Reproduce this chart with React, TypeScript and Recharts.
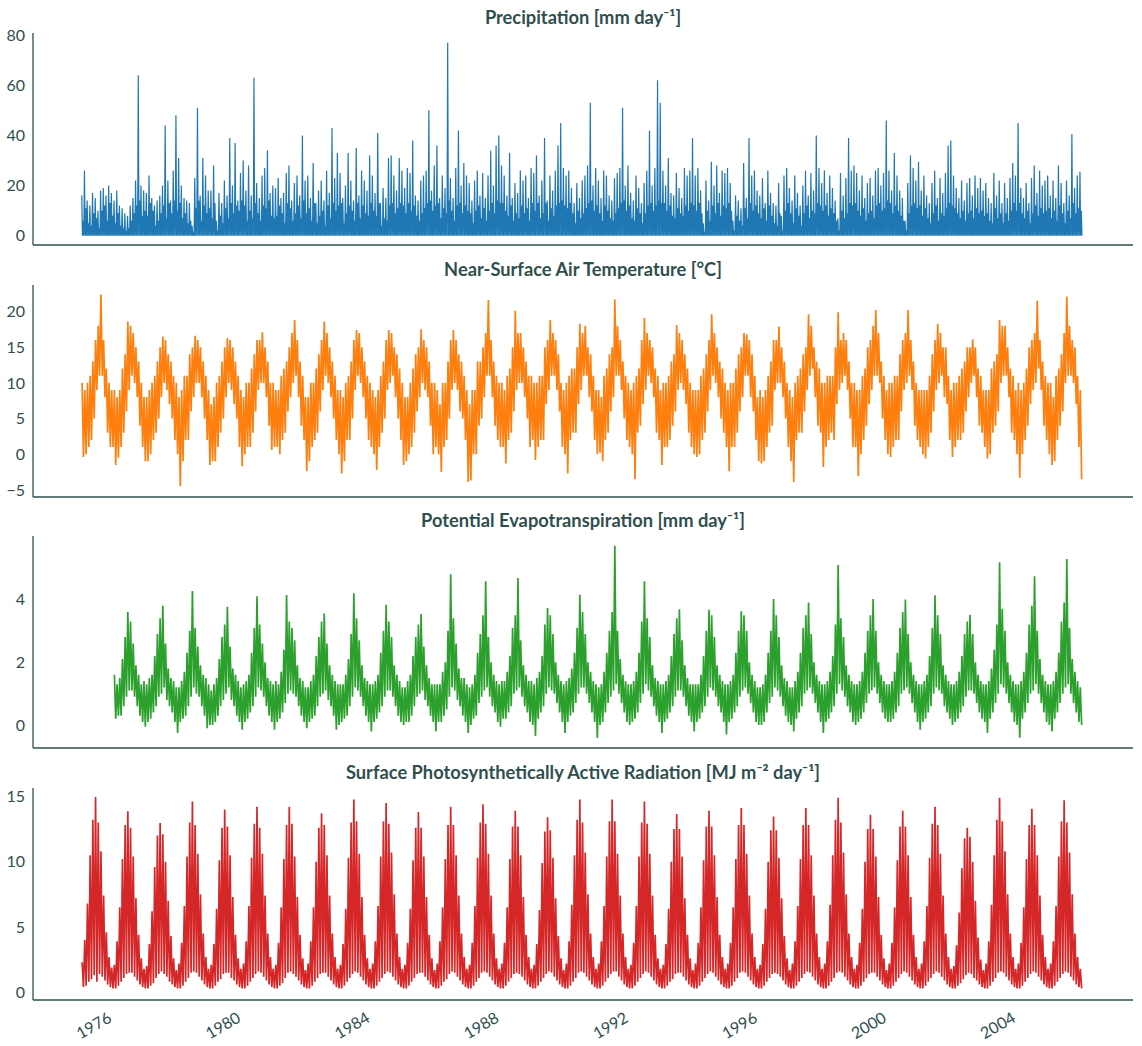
import React from 'react';
import { LineChart, Line, XAxis, YAxis } from 'recharts';

// Monthly envelopes of the daily series, January 1975 - December 2005.
// Each row is one year, January to December.

const FIRST_YEAR = 1975;
const PET_FIRST_YEAR = 1976;
const yearTicks = [1976, 1980, 1984, 1988, 1992, 1996, 2000, 2004];

// Precipitation: wettest day of the month and a typical wet day [mm/day]
const prPeak = [
  16, 26, 14, 12, 17, 15, 10, 18, 19, 16, 20, 17,
  14, 18, 12, 11, 9, 8, 12, 15, 22, 64, 20, 18,
  17, 24, 15, 12, 14, 16, 20, 44, 22, 14, 26, 48,
  31, 20, 15, 14, 13, 4, 23, 51, 16, 31, 24, 18,
  18, 28, 6, 17, 13, 22, 16, 39, 20, 37, 14, 25,
  30, 18, 28, 16, 63, 21, 15, 24, 27, 34, 17, 20,
  19, 23, 15, 17, 25, 28, 14, 21, 24, 16, 40, 22,
  24, 15, 29, 13, 18, 22, 14, 26, 17, 43, 23, 33,
  25, 15, 20, 33, 22, 14, 35, 16, 26, 22, 18, 32,
  24, 17, 41, 13, 19, 15, 31, 32, 24, 18, 31, 26,
  19, 27, 25, 38, 16, 14, 22, 24, 26, 50, 18, 28,
  36, 15, 24, 19, 77, 23, 15, 27, 42, 20, 29, 24,
  21, 14, 22, 26, 16, 25, 15, 24, 34, 20, 36, 40,
  28, 24, 16, 33, 15, 21, 17, 26, 22, 24, 15, 27,
  25, 32, 16, 22, 39, 14, 24, 18, 26, 36, 45, 27,
  24, 26, 19, 13, 21, 15, 22, 24, 28, 53, 20, 27,
  22, 15, 26, 24, 16, 14, 23, 25, 27, 51, 20, 28,
  17, 14, 24, 19, 13, 21, 26, 42, 20, 27, 62, 53,
  26, 20, 31, 17, 16, 25, 19, 15, 27, 24, 26, 39,
  24, 27, 18, 5, 22, 14, 29.5, 20, 28, 17, 26, 25,
  27, 21, 6, 16, 14, 11, 29, 15, 39, 24, 26, 18,
  16, 23, 13, 26, 17, 13, 12, 21, 8, 24, 27, 19,
  14, 24, 17, 12, 20, 26, 16, 25, 18, 40, 27, 21,
  26, 17, 24, 19, 14, 7, 25, 16, 23, 39, 26, 28,
  25, 18, 24, 15, 21, 23, 16, 26, 27, 20, 25, 46,
  26, 18, 33, 24, 18, 15, 6, 21, 32, 27, 22, 29.5,
  18, 24, 16, 13, 21, 26, 15, 23, 17, 25, 36, 38,
  24, 19, 15, 22, 14, 21, 23, 16, 24, 19, 23, 18,
  21, 15, 13, 25, 16, 22, 13, 21, 15, 23, 29, 24,
  45, 19, 15, 21, 13, 23, 28, 17, 26, 20, 22, 24,
  16, 22, 15, 28, 21, 13, 22, 16, 40.6, 19, 24, 25.5,
];
const prMid = [
  6, 11, 5, 4, 9, 7, 3, 10, 12, 6, 13, 8,
  5, 9, 4, 3, 2, 3, 6, 9, 12, 14, 8, 10,
  8, 13, 10, 4, 6, 9, 12, 7, 13, 9, 14, 10,
  13, 7, 9, 5, 6, 1, 11, 14, 6, 12, 9, 11,
  7, 13, 2, 8, 5, 11, 7, 13, 9, 12, 10, 14,
  12, 6, 10, 7, 13, 9, 6, 12, 11, 14, 8, 7,
  8, 12, 9, 5, 13, 11, 6, 9, 12, 7, 14, 9,
  11, 6, 13, 5, 8, 10, 4, 12, 7, 13, 10, 12,
  13, 5, 9, 12, 10, 6, 13, 7, 12, 9, 8, 13,
  10, 8, 13, 4, 7, 6, 12, 13, 9, 11, 13, 12,
  9, 13, 10, 12, 8, 6, 9, 11, 13, 14, 10, 12,
  13, 7, 11, 9, 14, 10, 6, 12, 13, 9, 12, 10,
  9, 5, 10, 12, 7, 11, 6, 10, 13, 9, 14, 13,
  13, 10, 8, 12, 6, 9, 7, 12, 9, 11, 6, 13,
  10, 13, 7, 9, 13, 6, 11, 8, 12, 13, 14, 12,
  11, 13, 9, 5, 10, 7, 9, 11, 13, 14, 10, 12,
  9, 6, 12, 10, 7, 6, 9, 11, 13, 14, 10, 12,
  7, 6, 11, 9, 5, 9, 12, 13, 10, 12, 14, 13,
  13, 10, 12, 8, 7, 11, 9, 8, 12, 10, 13, 12,
  10, 13, 9, 1.5, 10, 6, 12, 9, 13, 8, 12, 11,
  13, 10, 2, 8, 6, 4, 11, 7, 13, 10, 12, 9,
  7, 11, 6, 12, 8, 5, 4, 9, 2, 10, 13, 9,
  5, 11, 8, 4, 9, 12, 7, 10, 9, 13, 12, 10,
  12, 8, 11, 9, 6, 2, 10, 7, 9, 13, 12, 13,
  10, 8, 11, 6, 9, 10, 7, 12, 13, 10, 11, 14,
  13, 9, 12, 10, 8, 6, 2, 9, 12, 13, 11, 12,
  8, 11, 7, 5, 9, 12, 6, 9, 8, 11, 13, 12,
  11, 9, 7, 10, 6, 9, 10, 7, 11, 9, 10, 8,
  9, 6, 5, 11, 7, 9, 5, 9, 6, 10, 13, 10,
  13, 9, 7, 10, 5, 9, 12, 8, 11, 9, 10, 11,
  7, 10, 6, 12, 9, 5, 10, 7, 13, 9, 11, 10,
];
const DRY_DAY = 0;

// Near-surface air temperature: warmest and coldest day of the month [°C]
const tasHigh = [
  10, 9, 10, 11, 13, 16, 18, 22.4, 16, 12, 10, 9,
  9, 8, 9, 12, 14, 18.6, 18, 17, 15, 13, 10, 8,
  8, 9, 10, 11, 13, 15, 16.5, 16, 14, 13, 11, 10,
  8, 9, 11, 11, 14, 15, 16.6, 16, 15, 13, 11, 9,
  7, 8, 10, 11, 13, 15, 16.3, 16, 15, 13, 11, 9,
  8, 10, 10, 12, 14, 16, 16, 17.1, 15, 13, 10, 10,
  9, 9, 11, 12, 13, 15, 17, 18.8, 16, 13, 11, 8,
  8, 10, 10, 12, 14, 16, 18.6, 17, 15, 13, 11, 9,
  9, 8, 10, 11, 13, 16, 17.4, 17, 15, 13, 11, 10,
  9, 8, 9, 11, 13, 16, 17.4, 17, 15, 14, 12, 10,
  8, 8, 10, 12, 14, 15, 17.5, 16, 15, 13, 10, 10,
  9, 7, 10, 10, 13, 16, 17.4, 16, 14, 13, 11, 9,
  7, 9, 9, 13, 13, 15, 17, 21.6, 16, 13, 11, 10,
  10, 9, 11, 12, 15, 20.1, 17, 17, 15, 13, 11, 11,
  10, 10, 11, 11, 15, 16, 18.8, 17, 16, 14, 10, 9,
  10, 11, 12, 12, 15, 18.3, 17, 18, 15, 14, 11, 9,
  9, 8, 11, 12, 14, 15, 21.7, 18, 16, 13, 11, 10,
  9, 10, 11, 12, 16, 19.1, 17, 16, 15, 12, 11, 9,
  10, 10, 11, 13, 14, 18.1, 17, 16, 14, 12, 10, 9,
  9, 9, 11, 12, 14, 16, 19.6, 17, 15, 13, 12, 10,
  9, 10, 10, 12, 14, 15, 17, 16.8, 16, 14, 11, 8,
  9, 8, 9, 11, 13, 16, 16, 17.9, 15, 13, 10, 9,
  8, 10, 11, 12, 14, 15, 19.6, 18, 15, 13, 12, 10,
  10, 11, 11, 11, 15, 19.9, 16, 17, 16, 13, 10, 10,
  9, 9, 11, 12, 15, 16, 18, 20.2, 17, 13, 11, 9,
  10, 10, 11, 11, 14, 16, 17, 20.2, 16, 13, 10, 9,
  9, 9, 9, 11, 14, 16, 18.3, 17, 15, 15, 11, 9,
  10, 10, 11, 12, 13, 15, 15, 16.1, 15, 12, 11, 9,
  9, 9, 12, 13, 14, 18.8, 18, 18, 15, 12, 11, 9,
  10, 9, 10, 12, 15, 16, 17, 21.5, 16, 13, 11, 10,
  10, 8, 11, 12, 14, 17, 22.1, 18, 16, 15, 11, 9,
];
const tasLow = [
  -0.4, 0, 1, 2, 5, 9, 11, 11, 8, 3, 1, 1,
  -1.5, -0.5, 1, 3, 6, 9, 11, 10, 8, 4, 1, -1,
  -1, 0, 2, 3, 5, 8, 10, 9, 7, 5, 2, 0,
  -4.5, -1, 2, 2, 6, 8, 10, 10, 8, 5, 2, -1.5,
  -1, -1, 1, 3, 5, 8, 10, 9, 7, 5, 1, -1.7,
  0, 1, 1, 3, 6, 9, 10, 10, 8, 4, 0.6, 1,
  1, 0, 2, 3, 6, 8, 10, 11, 8, 4, 2, -2.4,
  -1, 1, 2, 3, 6, 9, 11, 10, 8, 5, 2, 0,
  -2.7, -1, 2, 2, 5, 9, 11, 10, 8, 5, 2, 1,
  0, -2.2, 1, 3, 5, 9, 10, 11, 8, 5, 2, -1.5,
  -1, 0, 1, 3, 6, 8, 10, 9, 8, 4, 0, 1,
  0, -2.5, 1, 2, 5, 9, 10, 9, 6, 5, 2, -3.9,
  -3.7, 0, 0, 4, 5, 8, 11, 11, 8, 4, 2, 1,
  1, -1.3, 2, 3, 6, 9, 10, 10, 8, 5, 1, 2,
  -0.8, 1, 2, 2, 7, 9, 11, 11, 9, 6, 1, 0,
  -2.7, 2, 3, 3, 7, 9, 11, 11, 8, 6, 2, 0,
  0.2, -1, 2, 3, 6, 8, 11, 11, 9, 5, 2, 1,
  0, -3.5, 3, 4, 7, 9, 11, 10, 8, 3, 2, -1.5,
  1, 1, 2, 4, 6, 9, 10, 9, 7, 3, 1, 0,
  -0.4, 0, 2, 3, 6, 9, 11, 10, 8, 5, 3, 1,
  -2.4, 1, 1, 3, 6, 8, 11, 11, 8, 6, 2, -1,
  -1.3, -1, 1, 3, 4, 9, 10, 10, 8, 5, 1, -1,
  -3.9, 2, 3, 3, 6, 9, 11, 12, 8, 4, 3, -1.8,
  1, 2, 3, 2, 7, 9, 10, 11, 9, 5, 1, 1,
  -3.1, 0, 2, 4, 7, 9, 11, 11, 10, 5, 2, 0,
  -0.4, 1, 2, 2, 6, 9, 10, 11, 9, 4, 2, 1,
  0, -0.6, 1, 3, 6, 9, 10, 11, 8, 7, 2, -0.4,
  1, 2, 2, 3, 6, 8, 10, 11, 8, 4, 3, 1,
  -0.6, 0, 3, 4, 6, 10, 11, 11, 8, 3, 2, 0,
  -3.3, 0, 2, 4, 7, 9, 10, 12, 9, 4, 2, 0,
  -1.5, -1, 2, 4, 6, 10, 11, 11, 10, 7, 1, -3.5,
];

// Potential evapotranspiration, 1976 onwards [mm/day]
const petHigh = [
  1.6, 1.3, 1.5, 2.1, 2.8, 3.6, 3.3, 2.6, 1.9, 1.6, 1.3, 1.4,
  1.3, 1.5, 1.6, 2.2, 2.9, 3.4, 3.8, 2.6, 1.8, 1.5, 1.4, 1.2,
  1.2, 1.4, 1.7, 2.3, 3.0, 4.27, 3.1, 2.5, 1.9, 1.6, 1.5, 1.3,
  1.1, 1.3, 1.5, 2.1, 2.8, 3.2, 3.77, 2.5, 1.8, 1.6, 1.4, 1.2,
  1.3, 1.4, 1.6, 2.3, 3.1, 4.1, 3.2, 2.6, 2.0, 1.5, 1.4, 1.3,
  1.4, 1.3, 1.7, 2.4, 4.14, 3.3, 3.1, 2.7, 1.9, 1.5, 1.4, 1.2,
  1.2, 1.4, 1.6, 2.2, 2.8, 3.3, 3.55, 2.6, 1.9, 1.6, 1.4, 1.3,
  1.3, 1.3, 1.6, 2.1, 2.9, 4.2, 3.4, 2.7, 1.9, 1.5, 1.4, 1.3,
  1.3, 1.4, 1.6, 2.3, 3.0, 3.83, 3.3, 2.8, 1.9, 1.6, 1.4, 1.2,
  1.2, 1.4, 1.6, 2.2, 2.8, 3.2, 3.54, 2.5, 1.9, 1.5, 1.3, 1.3,
  1.3, 1.3, 1.7, 2.0, 3.0, 4.8, 3.4, 2.6, 1.8, 1.5, 1.5, 1.3,
  1.2, 1.3, 1.6, 2.3, 2.9, 3.5, 4.58, 2.8, 2.0, 1.6, 1.4, 1.3,
  1.4, 1.4, 1.7, 2.2, 3.1, 3.5, 4.68, 2.7, 1.9, 1.6, 1.4, 1.4,
  1.3, 1.5, 1.7, 2.2, 3.2, 3.73, 3.5, 2.9, 2.0, 1.6, 1.4, 1.3,
  1.4, 1.5, 1.8, 2.3, 3.1, 4.15, 3.6, 2.9, 2.0, 1.7, 1.4, 1.3,
  1.2, 1.3, 1.7, 2.3, 3.0, 3.6, 5.71, 3.0, 2.1, 1.6, 1.4, 1.3,
  1.3, 1.4, 1.7, 2.3, 3.3, 4.58, 3.4, 2.8, 1.9, 1.5, 1.4, 1.3,
  1.3, 1.4, 1.6, 2.2, 2.9, 3.4, 3.69, 2.7, 1.9, 1.5, 1.3, 1.3,
  1.3, 1.3, 1.6, 2.2, 3.0, 3.67, 3.5, 2.8, 1.9, 1.6, 1.4, 1.3,
  1.3, 1.4, 1.6, 2.3, 3.0, 3.62, 3.5, 3.0, 2.0, 1.6, 1.4, 1.2,
  1.2, 1.3, 1.6, 2.3, 3.0, 4.01, 3.5, 2.8, 1.9, 1.5, 1.4, 1.2,
  1.2, 1.4, 1.7, 2.3, 3.1, 3.5, 3.9, 2.9, 2.0, 1.6, 1.4, 1.3,
  1.3, 1.4, 1.7, 2.2, 3.2, 5.1, 3.4, 2.8, 1.9, 1.6, 1.4, 1.3,
  1.3, 1.4, 1.7, 2.3, 3.0, 3.5, 4.01, 3.0, 2.0, 1.6, 1.4, 1.3,
  1.3, 1.4, 1.7, 2.3, 3.1, 3.6, 4.0, 2.9, 2.0, 1.6, 1.4, 1.3,
  1.3, 1.4, 1.6, 2.2, 3.1, 4.13, 3.5, 2.9, 1.9, 1.6, 1.4, 1.3,
  1.3, 1.4, 1.7, 2.2, 2.9, 3.3, 3.51, 2.9, 2.0, 1.6, 1.4, 1.3,
  1.3, 1.4, 1.8, 2.4, 3.2, 5.18, 3.7, 3.0, 2.0, 1.6, 1.4, 1.3,
  1.3, 1.4, 1.7, 2.3, 3.2, 3.8, 4.74, 3.0, 2.1, 1.6, 1.4, 1.3,
  1.3, 1.4, 1.7, 2.3, 3.3, 3.9, 5.29, 3.1, 2.1, 1.7, 1.4, 1.2,
];
const petLow = [
  0.2, 0.3, 0.3, 0.6, 0.9, 1.1, 1.1, 0.9, 0.6, 0.3, 0.1, -0.05,
  0.1, 0.2, 0.4, 0.6, 0.9, 1.0, 1.2, 0.8, 0.6, 0.4, 0.1, -0.25,
  0.1, 0.2, 0.3, 0.6, 0.9, 1.2, 1.0, 0.9, 0.6, 0.3, -0.1, 0.0,
  0.0, 0.1, 0.3, 0.6, 0.8, 1.0, 1.2, 0.8, 0.6, 0.3, 0.1, -0.15,
  0.1, 0.2, 0.4, 0.6, 0.9, 1.2, 1.1, 0.9, 0.6, 0.3, 0.1, -0.15,
  0.1, 0.2, 0.4, 0.7, 1.0, 1.1, 1.0, 0.9, 0.6, 0.3, 0.1, -0.1,
  0.1, 0.2, 0.3, 0.6, 0.9, 1.0, 1.1, 0.8, 0.6, 0.3, -0.15, 0.0,
  0.1, 0.2, 0.3, 0.6, 0.9, 1.2, 1.1, 0.9, 0.6, 0.3, 0.1, -0.2,
  0.1, 0.2, 0.4, 0.6, 0.9, 1.1, 1.1, 0.9, 0.6, 0.3, 0.1, 0.0,
  0.1, 0.1, 0.3, 0.6, 0.9, 1.0, 1.1, 0.8, 0.6, 0.3, 0.1, -0.2,
  0.1, 0.1, 0.3, 0.5, 0.9, 1.2, 1.1, 0.8, 0.6, 0.3, 0.1, -0.25,
  0.0, 0.2, 0.3, 0.7, 0.9, 1.1, 1.2, 0.9, 0.6, 0.4, 0.1, -0.05,
  0.2, 0.2, 0.4, 0.6, 1.0, 1.1, 1.2, 0.9, 0.6, 0.4, 0.1, 0.0,
  -0.35, 0.2, 0.4, 0.6, 1.0, 1.2, 1.1, 1.0, 0.7, 0.4, 0.1, -0.25,
  0.1, 0.3, 0.4, 0.7, 1.0, 1.2, 1.2, 1.0, 0.7, 0.4, 0.1, -0.41,
  0.0, 0.1, 0.4, 0.7, 0.9, 1.1, 1.3, 1.0, 0.7, 0.4, 0.1, 0.0,
  0.1, 0.2, 0.4, 0.7, 1.0, 1.3, 1.1, 0.9, 0.6, 0.3, 0.1, -0.25,
  0.1, 0.2, 0.4, 0.6, 0.9, 1.1, 1.1, 0.9, 0.6, 0.3, 0.1, -0.2,
  0.1, 0.2, 0.4, 0.6, 0.9, 1.2, 1.1, 0.9, 0.6, 0.4, 0.1, -0.3,
  0.1, 0.2, 0.4, 0.6, 0.9, 1.1, 1.2, 1.0, 0.7, 0.4, 0.1, 0.0,
  0.0, 0.1, 0.4, 0.7, 0.9, 1.2, 1.1, 0.9, 0.6, 0.3, 0.1, 0.0,
  -0.2, 0.2, 0.4, 0.6, 1.0, 1.1, 1.2, 1.0, 0.7, 0.4, 0.1, -0.25,
  0.1, 0.2, 0.4, 0.6, 1.0, 1.3, 1.1, 0.9, 0.6, 0.4, 0.1, 0.0,
  0.1, 0.2, 0.4, 0.7, 1.0, 1.1, 1.2, 1.0, 0.7, 0.4, 0.2, 0.1,
  0.1, 0.2, 0.4, 0.6, 1.0, 1.1, 1.2, 1.0, 0.7, 0.4, 0.1, -0.15,
  0.1, 0.2, 0.4, 0.6, 1.0, 1.2, 1.1, 1.0, 0.6, 0.4, 0.2, 0.0,
  0.1, 0.2, 0.4, 0.6, 0.9, 1.1, 1.1, 1.0, 0.7, 0.4, 0.2, 0.1,
  -0.25, 0.2, 0.4, 0.7, 1.0, 1.3, 1.2, 1.0, 0.7, 0.4, 0.1, 0.0,
  -0.4, 0.2, 0.4, 0.7, 1.0, 1.1, 1.3, 1.0, 0.7, 0.4, 0.1, 0.0,
  -0.2, 0.2, 0.4, 0.7, 1.0, 1.2, 1.3, 1.0, 0.7, 0.4, 0.1, 0.0,
];

// Surface photosynthetically active radiation [MJ m-2 day-1]
const parHigh = [
  2.3, 4.0, 6.8, 10.5, 13.2, 14.95, 13.0, 10.8, 7.4, 4.6, 2.7, 1.9,
  2.1, 3.9, 6.5, 10.2, 12.8, 13.85, 12.6, 10.4, 7.2, 4.4, 2.6, 1.8,
  2.0, 3.7, 6.2, 9.6, 12.0, 12.96, 12.1, 10.0, 7.0, 4.3, 2.6, 1.7,
  2.2, 3.8, 6.6, 10.4, 13.0, 14.6, 12.8, 10.6, 7.5, 4.5, 2.7, 1.8,
  2.1, 3.7, 6.4, 10.1, 12.6, 14.0, 12.7, 10.5, 7.3, 4.4, 2.6, 1.8,
  2.2, 3.9, 6.6, 10.3, 12.9, 14.2, 12.6, 10.6, 7.4, 4.5, 2.7, 1.8,
  2.1, 3.8, 6.5, 10.2, 12.8, 14.2, 12.9, 10.4, 7.3, 4.4, 2.6, 1.7,
  2.2, 3.9, 6.5, 10.0, 12.6, 13.7, 12.8, 10.5, 7.4, 4.5, 2.7, 1.8,
  2.1, 3.7, 6.4, 10.3, 13.0, 14.75, 13.1, 10.6, 7.3, 4.4, 2.6, 1.8,
  2.2, 3.9, 6.6, 10.4, 13.1, 14.5, 12.9, 10.7, 7.5, 4.5, 2.7, 1.8,
  2.1, 3.8, 6.4, 10.1, 12.6, 13.8, 12.6, 10.4, 7.3, 4.4, 2.6, 1.7,
  2.2, 3.9, 6.5, 10.2, 12.8, 14.2, 12.8, 10.5, 7.4, 4.5, 2.7, 1.8,
  2.1, 3.8, 6.6, 10.3, 13.0, 14.4, 12.9, 10.6, 7.4, 4.5, 2.6, 1.8,
  2.2, 3.8, 6.5, 10.2, 12.7, 13.9, 12.7, 10.5, 7.3, 4.4, 2.7, 1.8,
  2.1, 3.7, 6.3, 9.9, 12.3, 13.4, 12.4, 10.3, 7.2, 4.3, 2.6, 1.7,
  2.2, 3.9, 6.7, 10.5, 13.2, 14.75, 13.0, 10.7, 7.5, 4.5, 2.7, 1.8,
  2.2, 3.9, 6.6, 10.4, 13.1, 14.75, 13.1, 10.6, 7.4, 4.5, 2.7, 1.8,
  2.1, 3.8, 6.6, 10.4, 13.0, 14.6, 12.9, 10.6, 7.4, 4.4, 2.6, 1.8,
  2.1, 3.7, 6.4, 10.0, 12.5, 13.65, 12.5, 10.4, 7.2, 4.4, 2.6, 1.7,
  2.2, 3.8, 6.5, 10.1, 12.7, 13.9, 12.7, 10.5, 7.3, 4.4, 2.7, 1.8,
  2.2, 3.8, 6.5, 10.2, 12.8, 14.1, 12.8, 10.6, 7.4, 4.5, 2.7, 1.8,
  2.1, 3.7, 6.4, 10.0, 12.4, 13.45, 12.4, 10.3, 7.2, 4.3, 2.6, 1.7,
  2.2, 3.9, 6.6, 10.2, 12.8, 14.1, 12.8, 10.5, 7.4, 4.5, 2.7, 1.8,
  2.2, 3.9, 6.7, 10.5, 13.2, 14.9, 13.0, 10.7, 7.5, 4.5, 2.7, 1.8,
  2.1, 3.8, 6.4, 10.0, 12.5, 13.6, 12.5, 10.4, 7.3, 4.4, 2.6, 1.7,
  2.2, 3.8, 6.5, 10.1, 12.7, 13.9, 12.7, 10.5, 7.3, 4.4, 2.7, 1.8,
  2.2, 3.9, 6.6, 10.3, 12.9, 14.2, 12.8, 10.6, 7.4, 4.5, 2.7, 1.8,
  2.0, 3.6, 6.1, 9.5, 11.8, 12.6, 11.9, 10.0, 7.0, 4.2, 2.5, 1.7,
  2.2, 3.9, 6.7, 10.5, 13.2, 14.9, 13.1, 10.8, 7.5, 4.5, 2.7, 1.8,
  2.2, 3.8, 6.5, 10.2, 12.8, 14.05, 12.8, 10.5, 7.4, 4.4, 2.7, 1.8,
  2.2, 3.9, 6.6, 10.4, 13.1, 14.7, 13.0, 10.7, 7.5, 4.5, 2.7, 1.8,
];
const parLow = [
  0.4, 0.5, 0.8, 1.0, 1.3, 0.8, 1.4, 1.2, 0.9, 0.6, 0.4, 0.3,
  0.3, 0.5, 0.8, 1.1, 1.4, 1.5, 1.5, 1.2, 0.9, 0.6, 0.4, 0.3,
  0.3, 0.5, 0.7, 1.1, 1.4, 1.6, 1.4, 1.2, 0.8, 0.6, 0.4, 0.3,
  0.3, 0.5, 0.8, 1.1, 1.5, 1.6, 1.5, 1.2, 0.9, 0.6, 0.4, 0.3,
  0.3, 0.5, 0.8, 1.0, 1.4, 1.5, 1.5, 1.1, 0.9, 0.6, 0.4, 0.3,
  0.3, 0.5, 0.8, 1.1, 1.4, 1.6, 1.5, 1.2, 0.9, 0.6, 0.4, 0.3,
  0.3, 0.5, 0.7, 1.1, 1.5, 1.6, 1.4, 1.2, 0.9, 0.6, 0.4, 0.3,
  0.3, 0.5, 0.8, 1.1, 1.4, 1.5, 1.5, 1.2, 0.9, 0.6, 0.4, 0.3,
  0.3, 0.5, 0.8, 1.1, 1.4, 1.6, 1.5, 1.2, 0.9, 0.6, 0.4, 0.3,
  0.3, 0.5, 0.8, 1.1, 1.4, 1.6, 1.5, 1.2, 0.9, 0.6, 0.4, 0.3,
  0.3, 0.5, 0.8, 1.1, 1.4, 1.5, 1.5, 1.2, 0.9, 0.6, 0.4, 0.3,
  0.3, 0.5, 0.8, 1.0, 1.4, 1.6, 1.5, 1.2, 0.9, 0.6, 0.4, 0.3,
  0.3, 0.5, 0.8, 1.1, 1.5, 1.6, 1.5, 1.2, 0.9, 0.6, 0.4, 0.3,
  0.3, 0.5, 0.8, 1.1, 1.4, 1.5, 1.4, 1.2, 0.9, 0.6, 0.4, 0.3,
  0.3, 0.5, 0.8, 1.1, 1.4, 1.6, 1.5, 1.2, 0.9, 0.6, 0.4, 0.3,
  0.3, 0.5, 0.8, 1.1, 1.5, 1.6, 1.5, 1.2, 0.9, 0.6, 0.4, 0.3,
  0.3, 0.5, 0.8, 1.1, 1.4, 1.6, 1.6, 1.2, 0.9, 0.6, 0.4, 0.3,
  0.3, 0.5, 0.8, 1.1, 1.4, 1.6, 1.5, 1.2, 0.9, 0.6, 0.4, 0.3,
  0.3, 0.5, 0.8, 1.0, 1.4, 1.5, 1.5, 1.2, 0.9, 0.6, 0.4, 0.3,
  0.3, 0.5, 0.8, 1.1, 1.4, 1.6, 1.5, 1.2, 0.9, 0.6, 0.4, 0.3,
  0.3, 0.5, 0.8, 1.1, 1.5, 1.6, 1.5, 1.2, 0.9, 0.6, 0.4, 0.3,
  0.3, 0.5, 0.8, 1.1, 1.4, 1.5, 1.4, 1.2, 0.9, 0.6, 0.4, 0.3,
  0.3, 0.5, 0.8, 1.1, 1.4, 1.6, 1.5, 1.2, 0.9, 0.6, 0.4, 0.3,
  0.3, 0.5, 0.8, 1.1, 1.5, 1.6, 1.5, 1.2, 0.9, 0.6, 0.4, 0.3,
  0.3, 0.5, 0.8, 1.1, 1.4, 1.5, 1.5, 1.2, 0.9, 0.6, 0.4, 0.3,
  0.3, 0.5, 0.8, 1.1, 1.4, 1.6, 1.5, 1.2, 0.9, 0.6, 0.4, 0.3,
  0.3, 0.5, 0.8, 1.1, 1.4, 1.6, 1.5, 1.2, 0.9, 0.6, 0.4, 0.3,
  0.3, 0.5, 0.7, 1.0, 1.3, 1.5, 1.4, 1.1, 0.9, 0.6, 0.4, 0.3,
  0.3, 0.5, 0.8, 1.1, 1.5, 1.6, 1.5, 1.2, 0.9, 0.6, 0.4, 0.3,
  0.3, 0.5, 0.8, 1.1, 1.4, 1.6, 1.5, 1.2, 0.9, 0.6, 0.4, 0.3,
  0.3, 0.5, 0.8, 1.1, 1.4, 1.6, 1.5, 1.2, 0.9, 0.6, 0.4, 0.3,
];

type Row = { t: number; v: number };

// Alternate each month's high and low so the line sweeps the monthly range.
function monthlyRange(firstYear: number, high: number[], low: number[]): Row[] {
  return high.flatMap((h, i) => [
    { t: firstYear + (i + 0.25) / 12, v: h },
    { t: firstYear + (i + 0.75) / 12, v: low[i] },
  ]);
}

// Rain spikes: wettest day, dry day, typical wet day, dry day.
function rainSpikes(firstYear: number, peak: number[], mid: number[]): Row[] {
  return peak.flatMap((p, i) => [
    { t: firstYear + (i + 0.125) / 12, v: p },
    { t: firstYear + (i + 0.375) / 12, v: DRY_DAY },
    { t: firstYear + (i + 0.625) / 12, v: mid[i] },
    { t: firstYear + (i + 0.875) / 12, v: DRY_DAY },
  ]);
}

const INK = '#2f4f4f';
const FONT = 'Lato, "DejaVu Sans", sans-serif';
const WIDTH = 1142;
const PLOT_H = 212;
const TOP_PAD = 12;
const X_DOMAIN: [number, number] = [1973.5, 2007.57];

// Tick values printed with a true minus sign.
const signed = (v: number) => (v < 0 ? `\u2212${Math.abs(v)}` : `${v}`);

type PanelSpec = {
  title: React.ReactNode;
  plotTop: number;
  data: Row[];
  color: string;
  lineWidth: number;
  domain: [number, number];
  ticks: number[];
  showYears?: boolean;
};

const YearTick = (props: any) => {
  const { x, y, payload } = props;
  const ax = x - 1;
  const ay = y + 21;
  return (
    <text
      x={ax}
      y={ay}
      transform={`rotate(-30, ${ax}, ${ay})`}
      textAnchor="end"
      fill={INK}
      fontSize={16}
      fontFamily={FONT}
    >
      {payload.value}
    </text>
  );
};

function Panel({ title, plotTop, data, color, lineWidth, domain, ticks, showYears }: PanelSpec) {
  const xAxisH = showYears ? 44 : 1;
  const height = TOP_PAD + PLOT_H + xAxisH + 2;
  return (
    <>
      <div
        style={{
          position: 'absolute',
          left: 33,
          width: 1100,
          top: plotTop - 27,
          textAlign: 'center',
          fontFamily: FONT,
          fontWeight: 700,
          fontSize: 18.3,
          lineHeight: '22px',
          color: INK,
          whiteSpace: 'nowrap',
        }}
      >
        {title}
      </div>
      <div style={{ position: 'absolute', left: 0, top: plotTop - TOP_PAD }}>
        <LineChart
          width={WIDTH}
          height={height}
          data={data}
          margin={{ top: TOP_PAD, right: 9, bottom: 2, left: 0 }}
        >
          <XAxis
            dataKey="t"
            type="number"
            domain={X_DOMAIN}
            allowDataOverflow
            ticks={yearTicks}
            interval={0}
            height={xAxisH}
            tickSize={0}
            tickMargin={0}
            tickLine={false}
            tick={showYears ? <YearTick /> : false}
            axisLine={{ stroke: INK, strokeWidth: 1.3 }}
          />
          <YAxis
            type="number"
            domain={domain}
            allowDataOverflow
            ticks={ticks}
            interval={0}
            width={33}
            tickLine={false}
            tickFormatter={signed}
            axisLine={{ stroke: INK, strokeWidth: 1.3 }}
            tick={{ fill: INK, fontSize: 16, fontFamily: FONT }}
          />
          <Line
            type="linear"
            dataKey="v"
            stroke={color}
            strokeWidth={lineWidth}
            dot={false}
            activeDot={false}
            isAnimationActive={false}
          />
        </LineChart>
      </div>
    </>
  );
}

const rainData = rainSpikes(FIRST_YEAR, prPeak, prMid);
const tasData = monthlyRange(FIRST_YEAR, tasHigh, tasLow);
const petData = monthlyRange(PET_FIRST_YEAR, petHigh, petLow);
const parData = monthlyRange(FIRST_YEAR, parHigh, parLow);

export default function App() {
  return (
    <div
      style={{
        position: 'absolute',
        left: 0,
        top: 0,
        width: WIDTH,
        height: 1046,
        background: '#ffffff',
        overflow: 'hidden',
      }}
    >
      <Panel
        title={<>Precipitation [mm day⁻¹]</>}
        plotTop={33}
        data={rainData}
        color="#1f77b4"
        lineWidth={1.2}
        domain={[-3.7, 80.85]}
        ticks={[0, 20, 40, 60, 80]}
      />
      <Panel
        title={<>Near-Surface Air Temperature [°C]</>}
        plotTop={285}
        data={tasData}
        color="#ff7f0e"
        lineWidth={1.7}
        domain={[-6.0, 23.72]}
        ticks={[-5, 0, 5, 10, 15, 20]}
      />
      <Panel
        title={<>Potential Evapotranspiration [mm day⁻¹]</>}
        plotTop={536}
        data={petData}
        color="#2ca02c"
        lineWidth={1.7}
        domain={[-0.73, 6.02]}
        ticks={[0, 2, 4]}
      />
      <Panel
        title={<>Surface Photosynthetically Active Radiation [MJ m⁻² day⁻¹]</>}
        plotTop={788}
        data={parData}
        color="#d62728"
        lineWidth={1.7}
        domain={[-0.59, 15.64]}
        ticks={[0, 5, 10, 15]}
        showYears
      />
    </div>
  );
}
